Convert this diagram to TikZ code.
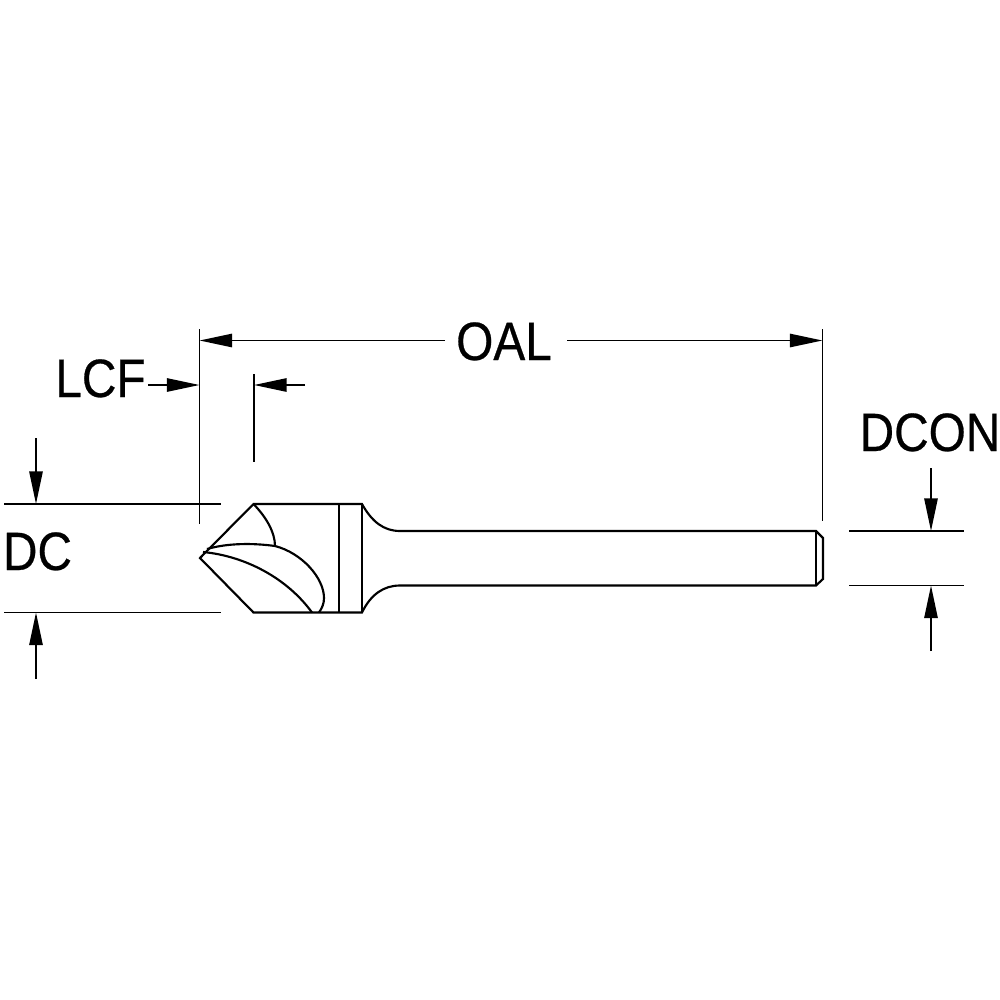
\documentclass[tikz,border=0pt]{standalone}
\usepackage{fontspec}
\usetikzlibrary{arrows.meta}
\newfontfamily\lab[FakeStretch=0.885,FakeBold=0.5]{Liberation Sans}
\tikzset{
  body/.style={line width=1.6pt,black,line join=miter},
  thin dim/.style={line width=1.35pt,black},
  arrowdim/.style={thin dim,-{Triangle[length=24.5pt,width=10pt]}},
  lbl/.style={inner sep=0pt,font=\lab\fontsize{40.5}{40.5}\selectfont,text=black,anchor=base}
}
\begin{document}
\begin{tikzpicture}[x=0.75pt,y=-0.75pt]
\useasboundingbox (0,0) rectangle (1000,1000);
% labels
\node[lbl] (oal) at (504,360) {OAL};
\node[lbl] (lcf) at (100.5,397) {LCF};
\node[lbl] (dc) at (37.5,570) {DC};
\node[lbl] (dcon) at (930,451) {DCON};
% outline points
\coordinate (tip) at (200,558);
\coordinate (tl) at (253.5,504);
\coordinate (bl) at (253.5,612.5);
\coordinate (tr) at (362,504);
\coordinate (br) at (362,612.5);
\coordinate (bt) at (339,504);
\coordinate (bb) at (339,612.5);
\coordinate (st) at (400,531);
\coordinate (sb) at (400,585.5);
\coordinate (et) at (816,531);
\coordinate (eb) at (816,585.5);
\coordinate (ct) at (823,538);
\coordinate (cb) at (823,579);
% tool
\draw[body] (tip) -- (tl) -- (tr) .. controls (372,522) and (384,531) .. (st) -- (et) -- (ct) -- (cb) -- (eb) -- (sb) .. controls (384,585.5) and (371,594) .. (br) -- (bl) -- cycle;
\draw[body] (bt) -- (bb);
\draw[body] (tr) -- (br);
\draw[body] (et) -- (eb);
\draw[body] (tl) .. controls (266,517) and (275,532) .. (275,546);
\draw[body] (207,549) .. controls (228,543) and (253,543) .. (275,546) .. controls (302,553) and (324,578) .. (324,598) .. controls (324,604) and (322,608) .. (319,612.5);
\draw[body] (203,552) .. controls (245,556) and (287,578) .. (312,612.5);
% OAL
\coordinate (ol1) at (199.5,329);
\coordinate (ol2) at (199.5,524);
\coordinate (or1) at (822.5,329);
\coordinate (or2) at (822.5,521);
\coordinate (oa1) at (199.5,340.5);
\coordinate (oa2) at (822.5,340.5);
\coordinate (oa1s) at (445,340.5);
\coordinate (oa2s) at (567,340.5);
\draw[thin dim] (ol1) -- (ol2);
\draw[thin dim] (or1) -- (or2);
\draw[arrowdim] (oa1s) -- (oa1);
\draw[arrowdim] (oa2s) -- (oa2);
% LCF
\coordinate (l1) at (148,385);
\coordinate (l2) at (199.5,385);
\coordinate (l3) at (305,385);
\coordinate (l4) at (254,385);
\coordinate (lv1) at (254,374);
\coordinate (lv2) at (254,462);
\draw[thin dim] (lv1) -- (lv2);
\draw[arrowdim] (l1) -- (l2);
\draw[arrowdim] (l3) -- (l4);
% DC
\coordinate (d1a) at (4,504);
\coordinate (d1b) at (221,504);
\coordinate (d2a) at (4,612.5);
\coordinate (d2b) at (221,612.5);
\coordinate (da1) at (36,438);
\coordinate (da2) at (36,504);
\coordinate (da3) at (36,679);
\coordinate (da4) at (36,612.5);
\draw[thin dim] (d1a) -- (d1b);
\draw[thin dim] (d2a) -- (d2b);
\draw[arrowdim] (da1) -- (da2);
\draw[arrowdim] (da3) -- (da4);
% DCON
\coordinate (c1a) at (849,531);
\coordinate (c1b) at (964,531);
\coordinate (c2a) at (849,585.5);
\coordinate (c2b) at (964,585.5);
\coordinate (ca1) at (931,468);
\coordinate (ca2) at (931,531);
\coordinate (ca3) at (931,651);
\coordinate (ca4) at (931,585.5);
\draw[thin dim] (c1a) -- (c1b);
\draw[thin dim] (c2a) -- (c2b);
\draw[arrowdim] (ca1) -- (ca2);
\draw[arrowdim] (ca3) -- (ca4);
\end{tikzpicture}
\end{document}
